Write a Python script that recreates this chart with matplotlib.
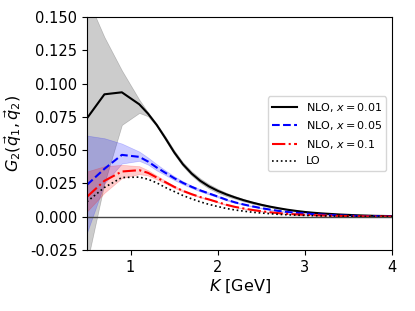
import matplotlib
matplotlib.use("Agg")
import matplotlib.pyplot as plt
import matplotlib.ticker as mticker

K = [0.5, 0.7, 0.9, 1.1, 1.2, 1.3, 1.4, 1.5, 1.6, 1.7, 1.8, 1.9, 2.0, 2.1, 2.2, 2.3, 2.4, 2.5,
     2.6, 2.7, 2.8, 2.9, 3.0, 3.1, 3.2, 3.3, 3.4, 3.5, 3.6, 3.7, 3.8, 3.9, 4.0]

nlo_001 = [0.074, 0.092, 0.0935, 0.0845, 0.0775, 0.069, 0.059, 0.0485, 0.0395, 0.0325, 0.027,
           0.0228, 0.0195, 0.0168, 0.0145, 0.0124, 0.0106, 0.009, 0.0076, 0.0064, 0.0053, 0.0044,
           0.0036, 0.0030, 0.0025, 0.0021, 0.0017, 0.0014, 0.0011, 0.0009, 0.0007, 0.0006, 0.0005]
nlo_001_hi = [0.165, 0.135, 0.110, 0.088, 0.0785, 0.070, 0.0603, 0.050, 0.041, 0.0342, 0.0288,
              0.0245, 0.021, 0.018, 0.0155, 0.0133, 0.0114, 0.0097, 0.0082, 0.0069, 0.0057, 0.0047,
              0.0039, 0.0032, 0.0027, 0.0022, 0.0018, 0.0015, 0.0012, 0.0010, 0.0008, 0.0006, 0.0005]
nlo_001_lo = [-0.035, 0.025, 0.069, 0.078, 0.0755, 0.068, 0.0575, 0.047, 0.038, 0.031, 0.0255,
              0.0212, 0.018, 0.0155, 0.0135, 0.0115, 0.0098, 0.0084, 0.0071, 0.0060, 0.0050, 0.0041,
              0.0034, 0.0028, 0.0023, 0.0019, 0.0016, 0.0013, 0.0010, 0.0008, 0.0006, 0.0005, 0.0004]

nlo_005 = [0.024, 0.036, 0.0465, 0.045, 0.0415, 0.037, 0.033, 0.029, 0.0255, 0.0225, 0.0198,
           0.0175, 0.0152, 0.0128, 0.0108, 0.0092, 0.0078, 0.0065, 0.0054, 0.0044, 0.0036, 0.0030,
           0.0025, 0.0020, 0.0016, 0.0013, 0.0010, 0.0008, 0.0006, 0.0005, 0.0004, 0.0003, 0.0002]
nlo_005_hi = [0.061, 0.059, 0.055, 0.049, 0.0445, 0.0395, 0.0348, 0.0305, 0.0267, 0.0235, 0.0206,
              0.0182, 0.0158, 0.0133, 0.0112, 0.0095, 0.0081, 0.0067, 0.0056, 0.0046, 0.0037, 0.0031,
              0.0026, 0.0021, 0.0017, 0.0014, 0.0011, 0.0009, 0.0007, 0.0005, 0.0004, 0.0003, 0.0002]
nlo_005_lo = [-0.012, 0.025, 0.040, 0.042, 0.0392, 0.0348, 0.0313, 0.0276, 0.0244, 0.0216, 0.019,
              0.0168, 0.0146, 0.0123, 0.0104, 0.0089, 0.0075, 0.0063, 0.0052, 0.0042, 0.0035, 0.0029,
              0.0024, 0.0019, 0.0015, 0.0012, 0.0009, 0.0007, 0.0005, 0.0004, 0.0003, 0.0002, 0.0001]

nlo_01 = [0.015, 0.027, 0.034, 0.035, 0.033, 0.0295, 0.026, 0.0225, 0.0195, 0.017, 0.0148,
          0.013, 0.011, 0.0090, 0.0074, 0.0062, 0.0051, 0.0042, 0.0034, 0.0027, 0.0022, 0.0018,
          0.0015, 0.0012, 0.0010, 0.0008, 0.0006, 0.0005, 0.0004, 0.0003, 0.0002, 0.0002, 0.0001]
nlo_01_hi = [0.034, 0.038, 0.039, 0.038, 0.035, 0.031, 0.027, 0.0233, 0.0201, 0.0175, 0.0152,
             0.0133, 0.0113, 0.0093, 0.0076, 0.0064, 0.0053, 0.0044, 0.0035, 0.0028, 0.0023, 0.0019,
             0.0016, 0.0013, 0.0011, 0.0009, 0.0007, 0.0005, 0.0004, 0.0003, 0.0003, 0.0002, 0.0001]
nlo_01_lo = [0.004, 0.018, 0.029, 0.032, 0.031, 0.028, 0.025, 0.0217, 0.0189, 0.0165, 0.0144,
             0.0127, 0.0107, 0.0087, 0.0072, 0.0060, 0.0049, 0.0040, 0.0033, 0.0026, 0.0021, 0.0017,
             0.0014, 0.0011, 0.0009, 0.0007, 0.0005, 0.0004, 0.0003, 0.0002, 0.0002, 0.0001, 0.0001]

lo = [0.0113, 0.022, 0.0295, 0.0298, 0.0282, 0.0255, 0.022, 0.019, 0.016, 0.0135, 0.0112,
      0.0093, 0.0077, 0.0062, 0.0051, 0.0042, 0.0034, 0.0028, 0.0023, 0.0018, 0.0015, 0.0012,
      0.0010, 0.0008, 0.0006, 0.0005, 0.0004, 0.0003, 0.0002, 0.0002, 0.0001, 0.0001, 0.0001]

fig = plt.figure(figsize=(4.15, 3.11), dpi=100)
ax = fig.add_axes([0.2096, 0.196, 0.735, 0.749])

ax.fill_between(K, nlo_001_lo, nlo_001_hi, color='k', alpha=0.2, linewidth=0.5)
ax.fill_between(K, nlo_005_lo, nlo_005_hi, color='b', alpha=0.2, linewidth=0.5)
ax.fill_between(K, nlo_01_lo, nlo_01_hi, color='r', alpha=0.2, linewidth=0.5)

ax.plot(K, nlo_001, color='k', lw=1.5, ls='-', label=r'NLO, $x=0.01$')
ax.plot(K, nlo_005, color='b', lw=1.5, ls='--', label=r'NLO, $x=0.05$')
ax.plot(K, nlo_01, color='r', lw=1.5, ls='-.', label=r'NLO, $x=0.1$')
ax.plot(K, lo, color='k', lw=1.2, ls=':', label='LO')

ax.axhline(0, color='#444444', lw=1.0)

ax.set_xlim(0.5, 4.0)
ax.set_ylim(-0.025, 0.15)
ax.set_xticks([1, 2, 3, 4])
ax.set_yticks([-0.025, 0, 0.025, 0.05, 0.075, 0.1, 0.125, 0.15])
ax.yaxis.set_major_formatter(mticker.FormatStrFormatter('%.3f'))
ax.tick_params(labelsize=10.5)
ax.set_xlabel(r'$K$ [GeV]', fontsize=11.5, labelpad=2)
ax.set_ylabel(r'$G_2(\vec{q}_1,\vec{q}_2)$', fontsize=11.5)
ax.legend(loc='center right', fontsize=8, handlelength=2.2)

fig.savefig('out.png', dpi=100)
